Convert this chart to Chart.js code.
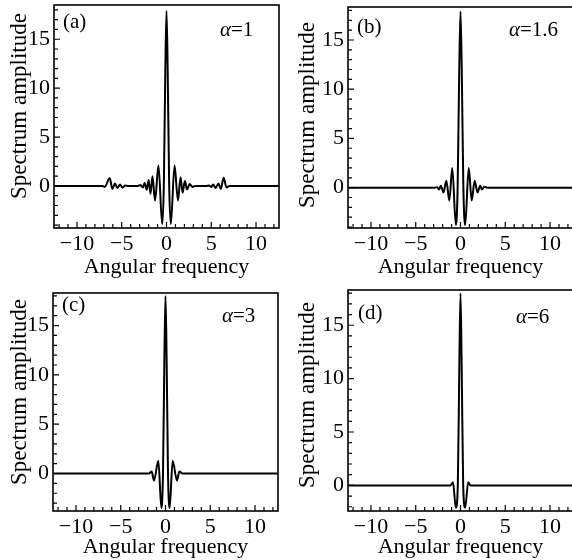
<!DOCTYPE html>
<html>
<head>
<meta charset="utf-8">
<script src="https://cdn.jsdelivr.net/npm/chart.js@4.4.0/dist/chart.umd.min.js"></script>
<style>
  html, body { margin: 0; padding: 0; background: #fff; }
  body { width: 572px; height: 560px; position: relative; overflow: hidden; }
  .panel { position: absolute; }
</style>
</head>
<body>
<div class="panel" style="left:0;top:0;width:286px;height:280px"><canvas id="ca"></canvas></div>
<div class="panel" style="left:286px;top:0;width:300px;height:280px"><canvas id="cb"></canvas></div>
<div class="panel" style="left:0;top:280px;width:286px;height:280px"><canvas id="cc"></canvas></div>
<div class="panel" style="left:286px;top:280px;width:300px;height:280px"><canvas id="cd"></canvas></div>
<script>
const FONT = '"Liberation Serif", "Times New Roman", serif';
const xTicks = [-10, -5, 0, 5, 10];
const yTicks = [0, 5, 10, 15];

// (a) alpha = 1
const freqA = [-12.57, -7.15, -6.9, -6.34, -6.05, -5.75, -5.49, -5.19, -4.93, -4.6, -4.3, -3.2, -2.9, -2.65, -2.45, -2.2, -2.0, -1.78, -1.57, -1.28, -0.9, -0.48, -0.3, -0.13, 0, 0.13, 0.3, 0.48, 0.9, 1.28, 1.57, 1.8, 2.05, 2.3, 2.6, 2.9, 3.2, 4.4, 4.75, 5.0, 5.2, 5.5, 5.8, 6.07, 6.38, 6.7, 7.05, 12.57];
const ampA = [0, 0, -0.1, 0.8, -0.3, 0.25, -0.2, 0.15, -0.15, 0.05, 0, 0, 0.1, -0.15, 0.3, -0.4, 0.6, -0.8, 1.0, -1.5, 2.1, -3.9, 0, 12, 17.9, 12, 0, -3.9, 2.1, -1.5, 0.9, -0.7, 0.5, -0.35, 0.2, -0.1, 0, 0, 0.05, -0.1, 0.15, -0.2, 0.25, -0.3, 0.85, -0.15, 0, 0];

// (b) alpha = 1.6
const freqB = [-12.57, -2.9, -2.6, -2.4, -2.2, -1.9, -1.58, -1.25, -0.92, -0.52, -0.32, -0.14, 0, 0.14, 0.32, 0.52, 0.92, 1.25, 1.58, 1.9, 2.2, 2.4, 2.65, 3.0, 12.57];
const ampB = [0, 0, 0.05, -0.2, 0.2, -0.5, 0.7, -1.3, 2.0, -3.8, 0, 12, 17.9, 12, 0, -3.8, 2.0, -1.3, 0.7, -0.5, 0.2, -0.2, 0.1, 0, 0];

// (c) alpha = 3
const freqC = [-12.57, -1.85, -1.55, -1.28, -0.8, -0.46, -0.28, -0.12, 0, 0.12, 0.28, 0.46, 0.8, 1.28, 1.55, 1.9, 12.57];
const ampC = [0, 0, 0.2, -0.7, 1.3, -3.5, 0, 12, 18.0, 12, 0, -3.5, 1.3, -0.7, 0.2, 0, 0];

// (d) alpha = 6
const freqD = [-12.57, -1.1, -0.84, -0.52, -0.3, -0.12, 0, 0.12, 0.3, 0.52, 0.86, 1.1, 12.57];
const ampD = [0, 0, 0.3, -2.1, 0, 12, 18.0, 12, 0, -2.1, 0.3, 0, 0];

const panels = [
  { id: 'ca', tag: '(a)', alpha: '1',   x: freqA, y: ampA, yMin: -4.3, yMax: 18.5,  axisW: 54, axisH: 52, padTop: 5,  padRight: 7,  tagPos: [9, 17],  alphaPos: [166, 25], yTitle: [20, 106] },
  { id: 'cb', tag: '(b)', alpha: '1.6', x: freqB, y: ampB, yMin: -4.1, yMax: 18.35, axisW: 62, axisH: 52, padTop: 7,  padRight: 13, tagPos: [9, 20],  alphaPos: [161, 23], yTitle: [22, 115] },
  { id: 'cc', tag: '(c)', alpha: '3',   x: freqC, y: ampC, yMin: -3.8, yMax: 18.3,  axisW: 53, axisH: 49, padTop: 13, padRight: 8,  tagPos: [9, 12],  alphaPos: [169, 23], yTitle: [20, 112] },
  { id: 'cd', tag: '(d)', alpha: '6',   x: freqD, y: ampD, yMin: -2.4, yMax: 18.3,  axisW: 62, axisH: 49, padTop: 10, padRight: 13, tagPos: [10, 23], alphaPos: [168, 27], yTitle: [22, 115] }
];

// frame, inward ticks, y title and panel labels
const framePlugin = {
  id: 'frame',
  afterDraw(chart, args, p) {
    const { ctx, chartArea: a, scales: { x, y } } = chart;
    ctx.save();
    ctx.strokeStyle = '#000';
    ctx.lineWidth = 1.6;
    ctx.strokeRect(a.left, a.top, a.right - a.left, a.bottom - a.top);
    ctx.lineWidth = 1.2;
    ctx.beginPath();
    for (let v = Math.ceil(x.min); v <= x.max; v++) {
      const px = x.getPixelForValue(v);
      const len = v % 5 === 0 ? 6 : 4;
      ctx.moveTo(px, a.bottom);
      ctx.lineTo(px, a.bottom - len);
    }
    for (let v = Math.ceil(y.min); v <= y.max; v++) {
      const py = y.getPixelForValue(v);
      const len = v % 5 === 0 ? 6 : 4;
      ctx.moveTo(a.left, py);
      ctx.lineTo(a.left + len, py);
    }
    ctx.stroke();

    ctx.fillStyle = '#000';
    ctx.textBaseline = 'middle';
    ctx.font = '21px ' + FONT;
    ctx.fillText(p.tag, a.left + p.tagPos[0], a.top + p.tagPos[1]);
    let tx = a.left + p.alphaPos[0];
    const ty = a.top + p.alphaPos[1];
    ctx.font = 'italic 21px ' + FONT;
    ctx.fillText('α', tx, ty);
    tx += ctx.measureText('α').width;
    ctx.font = '21px ' + FONT;
    ctx.fillText('=' + p.alpha, tx, ty);

    // vertical axis title
    ctx.translate(p.yTitle[0], p.yTitle[1]);
    ctx.rotate(-Math.PI / 2);
    ctx.textAlign = 'center';
    ctx.font = '23px ' + FONT;
    ctx.fillText('Spectrum amplitude', 0, 0);
    ctx.restore();
  }
};

const fmt = v => v < 0 ? '\u2212' + Math.abs(v) : String(v);
const noPad = s => { s.paddingTop = 0; s.paddingBottom = 0; s.paddingLeft = 0; s.paddingRight = 0; };

panels.forEach(p => {
  new Chart(document.getElementById(p.id), {
    type: 'line',
    data: {
      datasets: [{
        data: p.x.map((v, i) => ({ x: v, y: p.y[i] })),
        borderColor: '#000',
        borderWidth: 2,
        pointRadius: 0,
        cubicInterpolationMode: 'monotone',
        fill: false
      }]
    },
    options: {
      responsive: true,
      maintainAspectRatio: false,
      animation: false,
      layout: { padding: { top: p.padTop, right: p.padRight, left: 0, bottom: 0 } },
      plugins: {
        legend: { display: false },
        tooltip: { enabled: false },
        frame: { tag: p.tag, alpha: p.alpha, tagPos: p.tagPos, alphaPos: p.alphaPos, yTitle: p.yTitle }
      },
      scales: {
        x: {
          type: 'linear',
          min: -12.566,
          max: 12.566,
          afterBuildTicks: s => { s.ticks = xTicks.map(v => ({ value: v })); },
          afterFit: s => { s.height = p.axisH; noPad(s); },
          grid: { display: false, drawTicks: false },
          border: { display: false },
          ticks: { color: '#000', font: { family: FONT, size: 22 }, padding: 3, maxRotation: 0, autoSkip: false, callback: fmt },
          title: { display: true, text: 'Angular frequency', color: '#000', font: { family: FONT, size: 22 }, padding: { top: 0, bottom: 0 } }
        },
        y: {
          type: 'linear',
          min: p.yMin,
          max: p.yMax,
          afterBuildTicks: s => { s.ticks = yTicks.map(v => ({ value: v })); },
          afterFit: s => { s.width = p.axisW; noPad(s); },
          grid: { display: false, drawTicks: false },
          border: { display: false },
          ticks: { color: '#000', font: { family: FONT, size: 22 }, padding: 4, autoSkip: false, callback: fmt }
        }
      }
    },
    plugins: [framePlugin]
  });
});
</script>
</body>
</html>
